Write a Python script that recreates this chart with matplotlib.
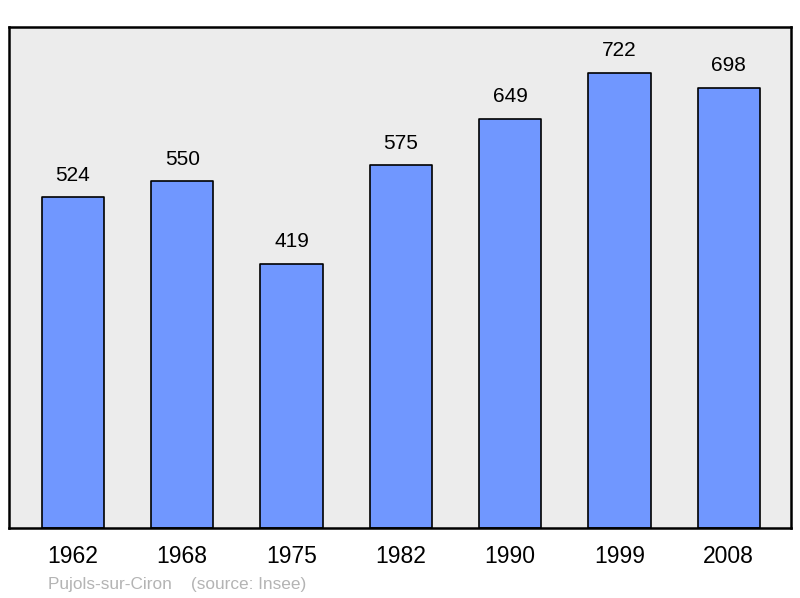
import matplotlib.pyplot as plt

years = ['1962', '1968', '1975', '1982', '1990', '1999', '2008']
population = [524, 550, 419, 575, 649, 722, 698]

plt.rcParams['font.family'] = ['Liberation Sans', 'DejaVu Sans']

fig = plt.figure(figsize=(8, 5.98), dpi=100)
ax = fig.add_axes([9 / 800, 70 / 598, 782 / 800, 501 / 598])
ax.set_facecolor('#ececec')

x = range(len(years))
ax.bar(x, population, width=0.57, color='#7097ff', edgecolor='black',
       linewidth=1.2, joinstyle='round', zorder=2)

for i, v in enumerate(population):
    ax.annotate(str(v), (i, v), xytext=(0, 9), textcoords='offset points',
                ha='center', va='bottom', fontsize=15)

ax.set_xlim(-0.585, 6.57)
ax.set_ylim(0, max(population) * 1.1)
ax.set_yticks([])
ax.set_xticks(list(x))
ax.set_xticklabels(years, fontsize=16.5)
ax.tick_params(axis='x', length=0, pad=12)
for s in ax.spines.values():
    s.set_linewidth(1.8)
    s.set_joinstyle('round')

fig.text(48 / 800, 1 - 585 / 598, 'Pujols-sur-Ciron    (source: Insee)',
         fontsize=12.4, color='#b4b4b4', va='center', ha='left')

fig.savefig('out.png', dpi=100)
